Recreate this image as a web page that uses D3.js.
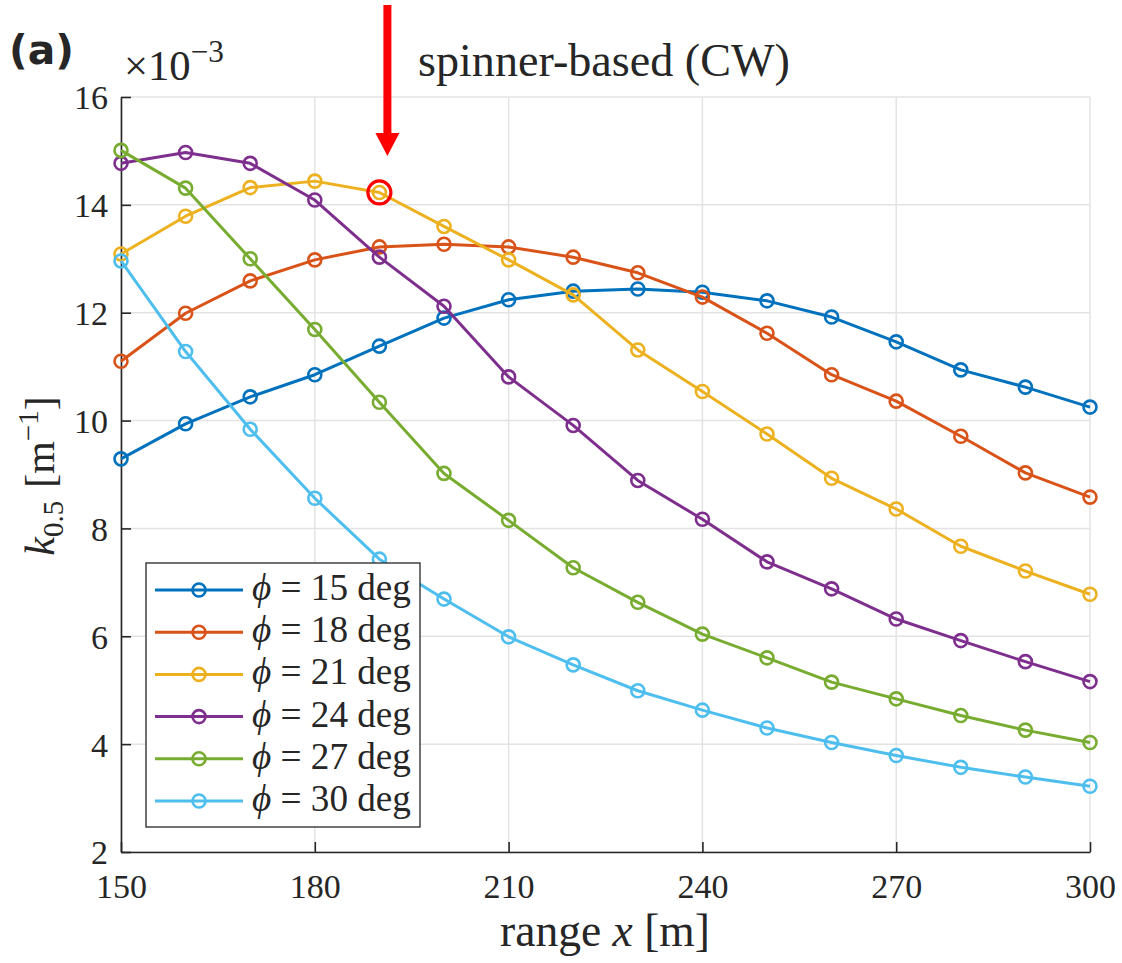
<!DOCTYPE html>
<html><head><meta charset="utf-8">
<script src="https://cdn.jsdelivr.net/npm/d3@7/dist/d3.min.js"></script>
<style>
body{margin:0;background:#fff;}
text{font-family:"Liberation Serif","Times New Roman","DejaVu Serif",serif;fill:#262626;}
</style></head>
<body><svg id="c" width="1122" height="963"></svg>
<script>
const ranges = [150,160,170,180,190,200,210,220,230,240,250,260,270,280,290,300];
const phiLabels = ["15","18","21","24","27","30"];
const k15 = [9.29,9.94,10.44,10.85,11.38,11.90,12.24,12.40,12.44,12.38,12.22,11.92,11.46,10.94,10.62,10.25];
const k18 = [11.10,11.99,12.59,12.98,13.22,13.27,13.22,13.03,12.74,12.29,11.62,10.85,10.36,9.71,9.03,8.58];
const k21 = [13.09,13.79,14.32,14.44,14.23,13.60,12.98,12.33,11.31,10.54,9.75,8.93,8.36,7.67,7.21,6.78];
const k24 = [14.77,14.97,14.77,14.09,13.03,12.12,10.81,9.91,8.89,8.17,7.38,6.88,6.32,5.92,5.53,5.16];
const k27 = [15.01,14.31,13.00,11.69,10.34,9.02,8.15,7.27,6.63,6.04,5.60,5.15,4.84,4.53,4.26,4.03];
const k30 = [12.96,11.28,9.84,8.56,7.43,6.69,5.99,5.47,4.99,4.63,4.30,4.03,3.79,3.57,3.39,3.22];
const xTicks = [150,180,210,240,270,300];
const yTicks = [2,4,6,8,10,12,14,16];
const highlight = {x:190, y:14.23};
const annotation = "spinner-based (CW)";
const colors = ["#0072BD","#D95319","#EDB120","#7E2F8E","#77AC30","#4DBEEE"];
const series = [k15,k18,k21,k24,k27,k30];

const svg = d3.select("#c");
const x = d3.scaleLinear().domain([150,300]).range([121,1090]);
const y = d3.scaleLinear().domain([2,16]).range([852,97]);

function fit(sel, w){
  const cur = sel.node().getBBox().width;
  const k = w / cur;
  const fs = parseFloat(sel.style("font-size"));
  sel.style("font-size", fs*k+"px");
  sel.selectAll("tspan").each(function(){
    const t = d3.select(this);
    const f = this.style.fontSize;
    if (f) t.style("font-size", parseFloat(f)*k+"px");
    const dy = t.attr("dy");
    if (dy) t.attr("dy", parseFloat(dy)*k);
  });
}

// grid
const g = svg.append("g");
g.selectAll(".gx").data(xTicks).enter().append("line")
 .attr("x1",d=>x(d)).attr("x2",d=>x(d)).attr("y1",y(2)).attr("y2",y(16))
 .attr("stroke","#e3e3e3").attr("stroke-width",1.5);
g.selectAll(".gy").data(yTicks).enter().append("line")
 .attr("x1",x(150)).attr("x2",x(300)).attr("y1",d=>y(d)).attr("y2",d=>y(d))
 .attr("stroke","#e3e3e3").attr("stroke-width",1.5);

// axes
const xAxis = d3.axisBottom(x).tickValues(xTicks).tickSizeInner(-10).tickSizeOuter(0).tickPadding(19);
const yAxis = d3.axisLeft(y).tickValues(yTicks).tickSizeInner(-10).tickSizeOuter(0).tickPadding(13);
const gx = svg.append("g").attr("transform",`translate(0,${y(2)})`).call(xAxis);
const gy = svg.append("g").attr("transform",`translate(${x(150)},0)`).call(yAxis);
[gx,gy].forEach(a=>{
  a.attr("font-family",null).attr("font-size",null);
  a.select(".domain").attr("stroke","#262626").attr("stroke-width",1.6);
  a.selectAll(".tick line").attr("stroke","#262626").attr("stroke-width",1.6);
  a.selectAll(".tick text").style("font-size","34px").attr("fill","#262626");
});
gx.selectAll(".tick text").attr("dy","0.78em");
gy.selectAll(".tick text").attr("dy","0.35em");

// lines
const line = d3.line().x((d,i)=>x(ranges[i])).y(d=>y(d));
series.forEach((s,j)=>{
  svg.append("path").datum(s).attr("d",line).attr("fill","none")
   .attr("stroke",colors[j]).attr("stroke-width",3).attr("stroke-linejoin","round");
  svg.selectAll(null).data(s).enter().append("circle")
   .attr("cx",(d,i)=>x(ranges[i])).attr("cy",d=>y(d)).attr("r",6.5)
   .attr("fill","none").attr("stroke",colors[j]).attr("stroke-width",2.6);
});

// highlight
svg.append("circle").attr("cx",x(highlight.x)).attr("cy",y(highlight.y)).attr("r",11.5)
 .attr("fill","none").attr("stroke","#ff0000").attr("stroke-width",3.2);
const ax = x(highlight.x)+8;
svg.append("rect").attr("x",ax-4).attr("y",5).attr("width",8).attr("height",130).attr("fill","#ff0000");
svg.append("path").attr("d",`M${ax-12},133 L${ax+12},133 L${ax},156 Z`).attr("fill","#ff0000");
const an = svg.append("text").attr("x",418).attr("y",76).style("font-size","32px").attr("fill","#000").text(annotation);
fit(an, 372);

// (a)
const aa = svg.append("text").attr("x",9).attr("y",64).style("font-family","DejaVu Sans, sans-serif")
 .style("font-weight","bold").style("font-size","32px").attr("fill","#000").text("(a)");
fit(aa, 65);

// x10^-3
const ex = svg.append("text").attr("x",124).attr("y",80).style("font-size","30px");
ex.append("tspan").text("×10");
ex.append("tspan").attr("dy",-13).style("font-size","22px").text("−3");
fit(ex, 100);

// x label
const xl = svg.append("text").attr("x",605).attr("y",946).attr("text-anchor","middle").style("font-size","32px");
xl.append("tspan").text("range ");
xl.append("tspan").style("font-style","italic").text("x");
xl.append("tspan").text(" [m]");
fit(xl, 210);

// y label (fixed sizes)
const yl = svg.append("text").attr("transform","translate(54,476) rotate(-90)").attr("text-anchor","middle").style("font-size","42px");
yl.append("tspan").style("font-style","italic").text("k");
yl.append("tspan").attr("dy",9).style("font-size","29px").text("0.5");
yl.append("tspan").attr("dy",-9).attr("dx",13).text("[m");
yl.append("tspan").attr("dy",-16).style("font-size","29px").text("−1");
yl.append("tspan").attr("dy",16).text("]");

// legend
const lg = svg.append("g");
lg.append("rect").attr("x",146).attr("y",563).attr("width",274).attr("height",264)
 .attr("fill","#fff").attr("stroke","#262626").attr("stroke-width",1.3);
phiLabels.forEach((p,i)=>{
  const yy = 590 + i*42.2;
  lg.append("line").attr("x1",155).attr("x2",243).attr("y1",yy).attr("y2",yy).attr("stroke",colors[i]).attr("stroke-width",3);
  lg.append("circle").attr("cx",199).attr("cy",yy).attr("r",6.5).attr("fill","none").attr("stroke",colors[i]).attr("stroke-width",2.6);
  const t = lg.append("text").attr("x",252).attr("y",yy+10).style("font-size","31px").attr("fill","#000");
  t.append("tspan").style("font-style","italic").text("ϕ");
  t.append("tspan").text(" = " + p + " deg");
  fit(t, 159);
});
</script></body></html>
